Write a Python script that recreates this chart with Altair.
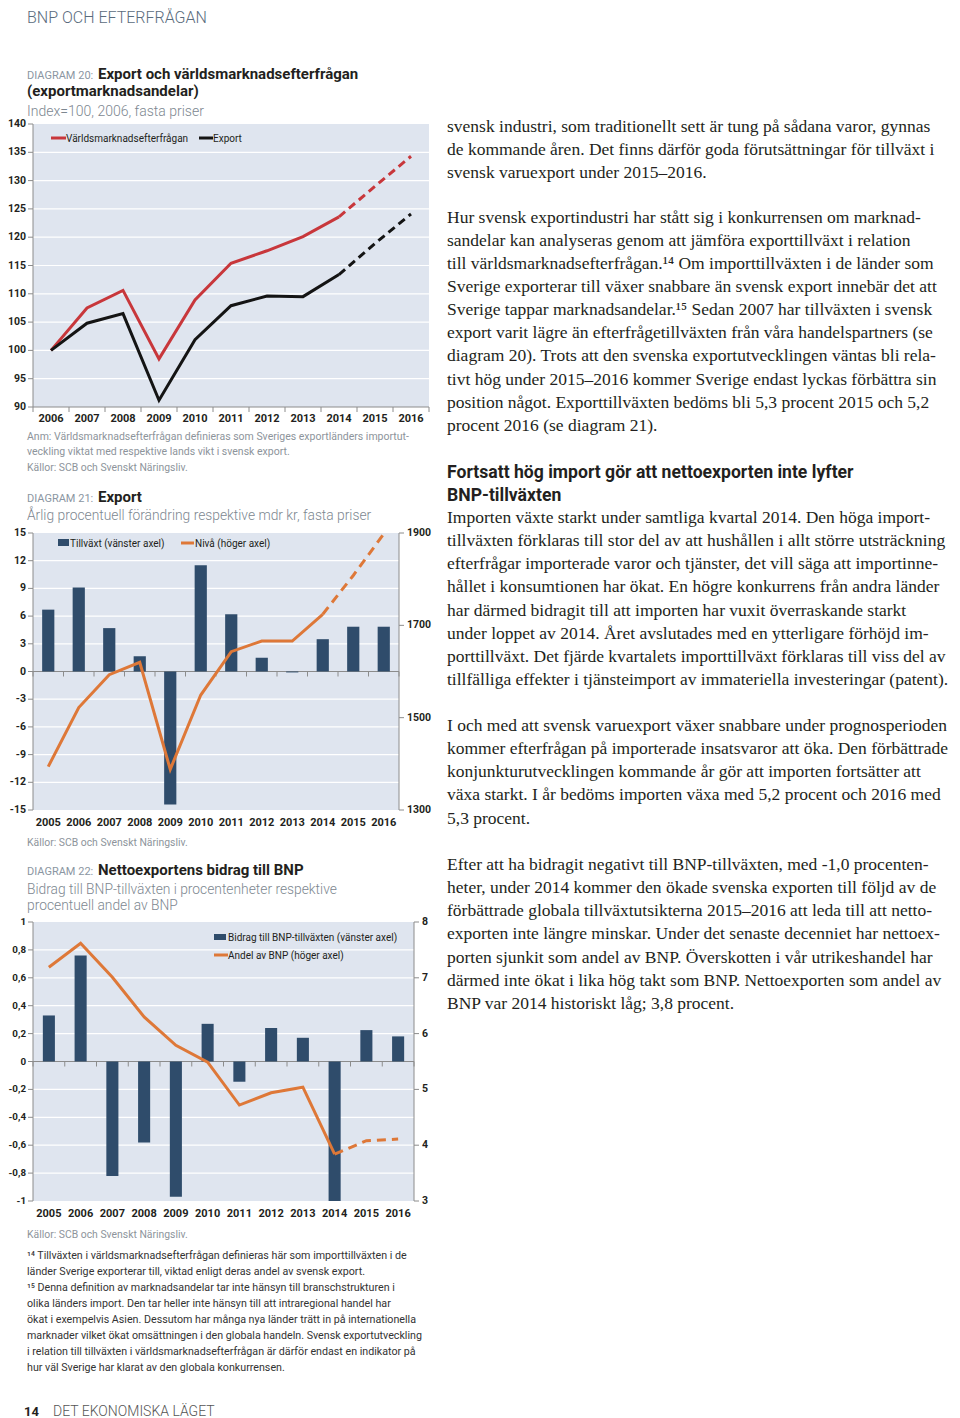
import altair as alt
import pandas as pd

FONT = "Roboto"
SERIF = "Liberation Serif"
NAVY = "#2f4c6b"
ORANGE = "#de7838"
RED = "#c8373b"
BLACK = "#141414"
BG = "#dfe5ef"
AXC = "#8c8c8c"
TXT = "#231f20"
GRAY = "#8b96a2"
NOTE = "#8d949b"

# ---------------- Diagram 20 data ----------------
years20 = list(range(2006, 2017))
world_demand = [100.0, 107.5, 110.6, 98.5, 108.9, 115.4, 117.6, 120.1, 123.6, 129.0, 134.3]
export_index = [100.0, 104.8, 106.5, 91.2, 101.9, 107.9, 109.6, 109.5, 113.4, 118.9, 124.1]
ticks20 = [90, 95, 100, 105, 110, 115, 120, 125, 130, 135, 140]
labels20 = ["90", "95", "100", "105", "110", "115", "120", "125", "130", "135", "140"]
year_labels20 = [str(y) for y in years20]
legend20 = ["Världsmarknadsefterfrågan", "Export"]

# ---------------- Diagram 21 data ----------------
years21 = list(range(2005, 2017))
growth21 = [6.7, 9.1, 4.7, 1.65, -14.4, 11.5, 6.2, 1.5, -0.1, 3.5, 4.85, 4.85]
level21 = [1394, 1522, 1593, 1620, 1388, 1549, 1643, 1666, 1666, 1724, 1808, 1898]
ticks21L = [-15, -12, -9, -6, -3, 0, 3, 6, 9, 12, 15]
labels21L = ["-15", "-12", "-9", "-6", "-3", "0", "3", "6", "9", "12", "15"]
ticks21R = [1300, 1500, 1700, 1900]
labels21R = ["1300", "1500", "1700", "1900"]
year_labels21 = [str(y) for y in years21]
legend21 = ["Tillväxt (vänster axel)", "Nivå (höger axel)"]

# ---------------- Diagram 22 data ----------------
years22 = list(range(2005, 2017))
contrib22 = [0.33, 0.76, -0.82, -0.58, -0.97, 0.27, -0.145, 0.24, 0.17, -1.0, 0.225, 0.18]
share22 = [7.19, 7.62, 7.01, 6.30, 5.79, 5.49, 4.72, 4.94, 5.04, 3.84, 4.08, 4.11]
ticks22L = [-1.0, -0.8, -0.6, -0.4, -0.2, 0.0, 0.2, 0.4, 0.6, 0.8, 1.0]
labels22L = ["-1", "-0,8", "-0,6", "-0,4", "-0,2", "0", "0,2", "0,4", "0,6", "0,8", "1"]
ticks22R = [3, 4, 5, 6, 7, 8]
labels22R = ["3", "4", "5", "6", "7", "8"]
year_labels22 = [str(y) for y in years22]
legend22 = ["Bidrag till BNP-tillväxten (vänster axel)", "Andel av BNP (höger axel)"]

# ---------------- Texts ----------------
header = "BNP OCH EFTERFRÅGAN"
footer_num = "14"
footer_txt = "DET EKONOMISKA LÄGET"
t20a = "DIAGRAM 20:"
t20b = "Export och världsmarknadsefterfrågan"
t20c = "(exportmarknadsandelar)"
s20 = "Index=100, 2006, fasta priser"
note20 = ["Anm: Världsmarknadsefterfrågan definieras som Sveriges exportländers importut-",
          "veckling viktat med respektive lands vikt i svensk export."]
src = "Källor: SCB och Svenskt Näringsliv."
t21a = "DIAGRAM 21:"
t21b = "Export"
s21 = "Årlig procentuell förändring respektive mdr kr, fasta priser"
t22a = "DIAGRAM 22:"
t22b = "Nettoexportens bidrag till BNP"
s22 = ["Bidrag till BNP-tillväxten i procentenheter respektive", "procentuell andel av BNP"]
footnotes = [
    "¹⁴ Tillväxten i världsmarknadsefterfrågan definieras här som importtillväxten i de",
    "länder Sverige exporterar till, viktad enligt deras andel av svensk export.",
    "¹⁵ Denna definition av marknadsandelar tar inte hänsyn till branschstrukturen i",
    "olika länders import. Den tar heller inte hänsyn till att intraregional handel har",
    "ökat i exempelvis Asien. Dessutom har många nya länder trätt in på internationella",
    "marknader vilket ökat omsättningen i den globala handeln. Svensk exportutveckling",
    "i relation till tillväxten i världsmarknadsefterfrågan är därför endast en indikator på",
    "hur väl Sverige har klarat av den globala konkurrensen.",
]
para1 = [
    "svensk industri, som traditionellt sett är tung på sådana varor, gynnas",
    "de kommande åren. Det finns därför goda förutsättningar för tillväxt i",
    "svensk varuexport under 2015–2016.",
]
para2 = [
    "Hur svensk exportindustri har stått sig i konkurrensen om marknad-",
    "sandelar kan analyseras genom att jämföra exporttillväxt i relation",
    "till världsmarknadsefterfrågan.¹⁴ Om importtillväxten i de länder som",
    "Sverige exporterar till växer snabbare än svensk export innebär det att",
    "Sverige tappar marknadsandelar.¹⁵ Sedan 2007 har tillväxten i svensk",
    "export varit lägre än efterfrågetillväxten från våra handelspartners (se",
    "diagram 20). Trots att den svenska exportutvecklingen väntas bli rela-",
    "tivt hög under 2015–2016 kommer Sverige endast lyckas förbättra sin",
    "position något. Exporttillväxten bedöms bli 5,3 procent 2015 och 5,2",
    "procent 2016 (se diagram 21).",
]
heading = ["Fortsatt hög import gör att nettoexporten inte lyfter", "BNP-tillväxten"]
para3 = [
    "Importen växte starkt under samtliga kvartal 2014. Den höga import-",
    "tillväxten förklaras till stor del av att hushållen i allt större utsträckning",
    "efterfrågar importerade varor och tjänster, det vill säga att importinne-",
    "hållet i konsumtionen har ökat. En högre konkurrens från andra länder",
    "har därmed bidragit till att importen har vuxit överraskande starkt",
    "under loppet av 2014. Året avslutades med en ytterligare förhöjd im-",
    "porttillväxt. Det fjärde kvartalets importtillväxt förklaras till viss del av",
    "tillfälliga effekter i tjänsteimport av immateriella investeringar (patent).",
]
para4 = [
    "I och med att svensk varuexport växer snabbare under prognosperioden",
    "kommer efterfrågan på importerade insatsvaror att öka. Den förbättrade",
    "konjunkturutvecklingen kommande år gör att importen fortsätter att",
    "växa starkt. I år bedöms importen växa med 5,2 procent och 2016 med",
    "5,3 procent.",
]
para5 = [
    "Efter att ha bidragit negativt till BNP-tillväxten, med -1,0 procenten-",
    "heter, under 2014 kommer den ökade svenska exporten till följd av de",
    "förbättrade globala tillväxtutsikterna 2015–2016 att leda till att netto-",
    "exporten inte längre minskar. Under det senaste decenniet har nettoex-",
    "porten sjunkit som andel av BNP. Överskotten i vår utrikeshandel har",
    "därmed inte ökat i lika hög takt som BNP. Nettoexporten som andel av",
    "BNP var 2014 historiskt låg; 3,8 procent.",
]

layers = []
ONE = pd.DataFrame({"k": [0]})


def txt(x, y, content, size, color=TXT, font=FONT, weight="normal", lh=None, align="left"):
    kw = dict(align=align, baseline="alphabetic", font=font, fontSize=size,
              color=color, fontWeight=weight, text=content)
    if lh is not None:
        kw["lineHeight"] = lh
    return alt.Chart(ONE).mark_text(**kw).encode(x=alt.value(x), y=alt.value(y))


def scales(xdom, xrng, yrng):
    def X(f):
        return alt.X(f, type="quantitative", axis=None,
                     scale=alt.Scale(domain=xdom, range=xrng, nice=False, zero=False))

    def Y(f, dom):
        return alt.Y(f, type="quantitative", axis=None,
                     scale=alt.Scale(domain=dom, range=yrng, nice=False, zero=False))
    return X, Y


def frame(X, Y, xdom, ydom, grid, lticks, llabels, years, ylabels, base, label_dy,
          baseline_val, lsize=10.5, rdom=None, rticks=None, rlabels=None):
    L = []
    bg = pd.DataFrame({"x0": [xdom[0]], "x1": [xdom[1]], "y0": [ydom[0]], "y1": [ydom[1]]})
    L.append(alt.Chart(bg).mark_rect(color=BG).encode(
        x=X("x0"), x2="x1", y=Y("y0", ydom), y2="y1"))
    g = pd.DataFrame({"v": grid, "x0": xdom[0], "x1": xdom[1]})
    L.append(alt.Chart(g).mark_rule(color="white", strokeWidth=1.2).encode(
        x=X("x0"), x2="x1", y=Y("v", ydom)))
    bl = pd.DataFrame({"v": [baseline_val], "x0": xdom[0], "x1": xdom[1]})
    L.append(alt.Chart(bl).mark_rule(color=AXC, strokeWidth=1).encode(
        x=X("x0"), x2="x1", y=Y("v", ydom)))
    la = pd.DataFrame({"x0": [xdom[0]], "y0": [ydom[0]], "y1": [ydom[1]]})
    L.append(alt.Chart(la).mark_rule(color=AXC, strokeWidth=1).encode(
        x=X("x0"), y=Y("y0", ydom), y2="y1"))
    lt = pd.DataFrame({"v": lticks, "lab": llabels, "x0": xdom[0]})
    L.append(alt.Chart(lt).mark_rule(color=AXC, strokeWidth=1, x2Offset=-5).encode(
        x=X("x0"), x2="x0", y=Y("v", ydom)))
    L.append(alt.Chart(lt).mark_text(align="right", baseline="middle", dx=-7, font=FONT,
                                     fontSize=lsize, fontWeight="bold", color=TXT).encode(
        x=X("x0"), y=Y("v", ydom), text="lab:N"))
    bnd = [years[0] - 0.5] + [y + 0.5 for y in years]
    xt = pd.DataFrame({"b": bnd, "y0": base})
    L.append(alt.Chart(xt).mark_rule(color=AXC, strokeWidth=1, y2Offset=5).encode(
        x=X("b"), y=Y("y0", ydom), y2="y0"))
    xl = pd.DataFrame({"yr": years, "lab": ylabels, "y0": ydom[0]})
    L.append(alt.Chart(xl).mark_text(align="center", baseline="alphabetic", dy=label_dy,
                                     font=FONT, fontSize=11, fontWeight="bold", color=TXT).encode(
        x=X("yr"), y=Y("y0", ydom), text="lab:N"))
    if rdom is not None:
        ra = pd.DataFrame({"x1": [xdom[1]], "y0": [rdom[0]], "y1": [rdom[1]]})
        L.append(alt.Chart(ra).mark_rule(color=AXC, strokeWidth=1).encode(
            x=X("x1"), y=Y("y0", rdom), y2="y1"))
        rt = pd.DataFrame({"v": rticks, "lab": rlabels, "x1": xdom[1]})
        L.append(alt.Chart(rt).mark_rule(color=AXC, strokeWidth=1, x2Offset=5).encode(
            x=X("x1"), x2="x1", y=Y("v", rdom)))
        L.append(alt.Chart(rt).mark_text(align="left", baseline="middle", dx=8, font=FONT,
                                         fontSize=10.5, fontWeight="bold", color=TXT).encode(
            x=X("x1"), y=Y("v", rdom), text="lab:N"))
    return L


# ---------------- Diagram 20 ----------------
xd20 = [2005.5, 2016.5]
yd20 = [90, 140]
X20, Y20 = scales(xd20, [25, 421], [399, 116])
layers += frame(X20, Y20, xd20, yd20, [95, 100, 105, 110, 115, 120, 125, 130, 135],
                ticks20, labels20, years20, year_labels20, 90, 15, 90)
d20 = pd.DataFrame({"yr": years20, "wd": world_demand, "ex": export_index})
solid20 = d20[d20.yr <= 2014]
dash20 = d20[d20.yr >= 2014]
layers.append(alt.Chart(solid20).mark_line(color=RED, strokeWidth=3).encode(x=X20("yr"), y=Y20("wd", yd20)))
layers.append(alt.Chart(dash20).mark_line(color=RED, strokeWidth=3, strokeDash=[8, 5]).encode(x=X20("yr"), y=Y20("wd", yd20)))
layers.append(alt.Chart(solid20).mark_line(color=BLACK, strokeWidth=3).encode(x=X20("yr"), y=Y20("ex", yd20)))
layers.append(alt.Chart(dash20).mark_line(color=BLACK, strokeWidth=3, strokeDash=[8, 5]).encode(x=X20("yr"), y=Y20("ex", yd20)))
layers.append(alt.Chart(ONE).mark_rule(color=RED, strokeWidth=3).encode(x=alt.value(43), x2=alt.value(58), y=alt.value(130)))
layers.append(txt(58, 134, legend20[0], 10))
layers.append(alt.Chart(ONE).mark_rule(color=BLACK, strokeWidth=3).encode(x=alt.value(191), x2=alt.value(205), y=alt.value(130)))
layers.append(txt(205, 134, legend20[1], 10))

# ---------------- Diagram 21 ----------------
xd21 = [2004.5, 2016.5]
yd21 = [-15, 15]
rd21 = [1300, 1900]
X21, Y21 = scales(xd21, [25, 391], [802, 525])
layers += frame(X21, Y21, xd21, yd21, [-12, -9, -6, -3, 3, 6, 9, 12],
                ticks21L, labels21L, years21, year_labels21, 0, 16, 0,
                rdom=rd21, rticks=ticks21R, rlabels=labels21R)
d21 = pd.DataFrame({"yr": years21, "g": growth21, "lv": level21})
d21["lo"] = d21.yr - 0.2
d21["hi"] = d21.yr + 0.2
d21["zero"] = 0.0
layers.append(alt.Chart(d21).mark_rect(color=NAVY).encode(
    x=X21("lo"), x2="hi", y=Y21("g", yd21), y2="zero"))
layers.append(alt.Chart(d21[d21.yr <= 2014]).mark_line(color=ORANGE, strokeWidth=3).encode(
    x=X21("yr"), y=Y21("lv", rd21)))
layers.append(alt.Chart(d21[d21.yr >= 2014]).mark_line(color=ORANGE, strokeWidth=3, strokeDash=[9, 6]).encode(
    x=X21("yr"), y=Y21("lv", rd21)))
layers.append(alt.Chart(ONE).mark_rect(color=NAVY).encode(x=alt.value(50), x2=alt.value(61), y=alt.value(531), y2=alt.value(538)))
layers.append(txt(62, 539, legend21[0], 10))
layers.append(alt.Chart(ONE).mark_rule(color=ORANGE, strokeWidth=3).encode(x=alt.value(173), x2=alt.value(186), y=alt.value(535)))
layers.append(txt(187, 539, legend21[1], 10))

# ---------------- Diagram 22 ----------------
xd22 = [2004.5, 2016.5]
yd22 = [-1, 1]
rd22 = [3, 8]
X22, Y22 = scales(xd22, [25, 406], [1193, 914])
layers += frame(X22, Y22, xd22, yd22, [-0.8, -0.6, -0.4, -0.2, 0.2, 0.4, 0.6, 0.8],
                ticks22L, labels22L, years22, year_labels22, 0, 16, 0, lsize=9.8,
                rdom=rd22, rticks=ticks22R, rlabels=labels22R)
d22 = pd.DataFrame({"yr": years22, "c": contrib22, "s": share22})
d22["lo"] = d22.yr - 0.19
d22["hi"] = d22.yr + 0.19
d22["zero"] = 0.0
layers.append(alt.Chart(d22).mark_rect(color=NAVY).encode(
    x=X22("lo"), x2="hi", y=Y22("c", yd22), y2="zero"))
layers.append(alt.Chart(d22[d22.yr <= 2014]).mark_line(color=ORANGE, strokeWidth=3).encode(
    x=X22("yr"), y=Y22("s", rd22)))
layers.append(alt.Chart(d22[d22.yr >= 2014]).mark_line(color=ORANGE, strokeWidth=3, strokeDash=[9, 6]).encode(
    x=X22("yr"), y=Y22("s", rd22)))
layers.append(alt.Chart(ONE).mark_rect(color=NAVY).encode(x=alt.value(206), x2=alt.value(218), y=alt.value(926), y2=alt.value(932)))
layers.append(txt(220, 933, legend22[0], 10))
layers.append(alt.Chart(ONE).mark_rule(color=ORANGE, strokeWidth=3).encode(x=alt.value(206), x2=alt.value(220), y=alt.value(947)))
layers.append(txt(220, 951, legend22[1], 10))

# ---------------- Left column texts ----------------
layers.append(txt(19, 15, header, 16, color="#5a6b7c", weight=300))
layers.append(txt(19, 71, t20a, 11, color=GRAY))
layers.append(txt(90, 71, t20b, 15, weight="bold"))
layers.append(txt(19, 88, t20c, 15, weight="bold"))
layers.append(txt(19, 108, s20, 14, color="#7d8790", weight=300))
layers.append(txt(19, 432, note20, 10.5, color=NOTE, lh=15))
layers.append(txt(19, 463, src, 10.4, color=NOTE))

layers.append(txt(19, 494, t21a, 11, color=GRAY))
layers.append(txt(90, 494, t21b, 15, weight="bold"))
layers.append(txt(19, 512, s21, 13.8, color="#7d8790", weight=300))
layers.append(txt(19, 838, src, 10.4, color=NOTE))

layers.append(txt(19, 867, t22a, 11, color=GRAY))
layers.append(txt(90, 867, t22b, 15, weight="bold"))
layers.append(txt(19, 886, s22, 13.8, color="#7d8790", weight=300, lh=16))
layers.append(txt(19, 1230, src, 10.4, color=NOTE))

layers.append(txt(19, 1251, footnotes, 10.7, color="#333333", lh=16))
layers.append(txt(16, 1408, footer_num, 13, weight="bold"))
layers.append(txt(45, 1408, footer_txt, 14, color="#555555", weight=300))

# ---------------- Right column texts ----------------
RX = 439
LH = 23.15
BODY = 17.5
layers.append(txt(RX, 123.5, para1, BODY, font=SERIF, lh=LH))
layers.append(txt(RX, 214.5, para2, BODY, font=SERIF, lh=LH))
layers.append(txt(RX, 470, heading, 17.6, weight="bold", lh=23))
layers.append(txt(RX, 515, para3, BODY, font=SERIF, lh=LH))
layers.append(txt(RX, 723, para4, BODY, font=SERIF, lh=LH))
layers.append(txt(RX, 862, para5, BODY, font=SERIF, lh=LH))

chart = (
    alt.layer(*layers)
    .resolve_scale(x="independent", y="independent")
    .properties(width=944, height=1410, padding=0,
                autosize=alt.AutoSizeParams(type="none"), background="white")
    .configure_view(strokeWidth=0)
)

chart.save("out.html", embed_options={"renderer": "svg", "actions": False})
